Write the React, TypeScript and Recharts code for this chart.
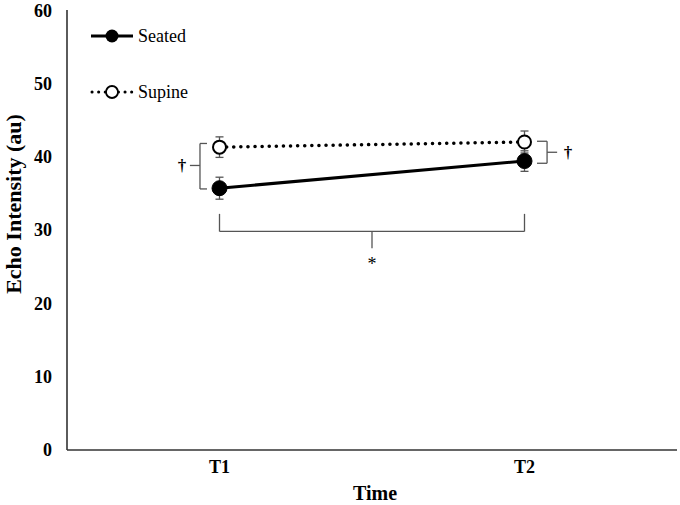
import React from 'react';
import {
  LineChart, Line, XAxis, YAxis, ErrorBar, ReferenceLine, ReferenceDot,
} from 'recharts';

const timePoints = [1, 2];
const timeLabels = ['T1', 'T2'];
const seatedMean = [35.7, 39.4];
const seatedSE = [1.5, 1.4];
const supineMean = [41.3, 42.0];
const supineSE = [1.4, 1.5];
const yTicks = [0, 10, 20, 30, 40, 50, 60];

const data = timePoints.map((t, i) => ({
  t,
  seated: seatedMean[i],
  seatedErr: seatedSE[i],
  supine: supineMean[i],
  supineErr: supineSE[i],
}));

const FONT = 'Liberation Serif, Times New Roman, serif';
const BR = '#555';

// bracket annotation coordinates (data units)
const t1Bracket = { x: 0.936, xEnd: 0.959, xMid: 0.903, yTop: 41.8, yBot: 35.6, yMid: 38.8, xLabel: 0.877 };
const t2Bracket = { x: 2.074, xStart: 2.041, xMid: 2.107, yTop: 42.1, yBot: 39.1, yMid: 40.6, xLabel: 2.143 };
const timeBracket = { yTop: 32.2, yBar: 29.8, yStem: 27.5, xMid: 1.5, yLabel: 25.4 };

const SupineDot = (props: any) => {
  const { cx, cy, index } = props;
  if (cx == null || cy == null) return null;
  return <circle key={`sd${index}`} cx={cx} cy={cy} r={6.5} fill="#fff" stroke="#000" strokeWidth={2} />;
};
const SeatedDot = (props: any) => {
  const { cx, cy, index } = props;
  if (cx == null || cy == null) return null;
  return <circle key={`sed${index}`} cx={cx} cy={cy} r={7.5} fill="#000" stroke="#000" strokeWidth={1} />;
};

const markLabel = (txt: string, size: number, weight: string) => ({
  content: (p: any) => {
    const vb = p.viewBox || {};
    const cx = (vb.cx ?? vb.x ?? 0) + (vb.width ? vb.width / 2 : 0);
    const cy = (vb.cy ?? vb.y ?? 0) + (vb.height ? vb.height / 2 : 0);
    return (
      <text x={cx} y={cy} dy="0.35em" textAnchor="middle" fontFamily={FONT} fontWeight={weight} fontSize={size} fill="#000">
        {txt}
      </text>
    );
  },
});

const LegendOverlay = () => (
  <svg width={140} height={110} style={{ position: 'absolute', left: 80, top: 0 }}>
    <line x1={11} y1={36} x2={53} y2={36} stroke="#000" strokeWidth={3} />
    <circle cx={32} cy={36} r={6.5} fill="#000" />
    <text x={58} y={36} dy="0.35em" fontFamily={FONT} fontSize={18} fill="#000">Seated</text>
    <line x1={12} y1={92} x2={52} y2={92} stroke="#000" strokeWidth={3} strokeDasharray="0.1 6.5" strokeLinecap="round" />
    <circle cx={32} cy={92} r={6} fill="#fff" stroke="#000" strokeWidth={1.8} />
    <text x={58} y={92} dy="0.35em" fontFamily={FONT} fontSize={18} fill="#000">Supine</text>
  </svg>
);

const seg = (x1: number, y1: number, x2: number, y2: number, k: string) => (
  <ReferenceLine
    key={k}
    segment={[{ x: x1, y: y1 }, { x: x2, y: y2 }]}
    stroke={BR}
    strokeWidth={1.3}
  />
);

export default function App() {
  return (
    <div style={{ position: 'absolute', left: 0, top: 0, width: 680, height: 505, background: '#fff' }}>
      <LineChart width={680} height={505} data={data} margin={{ top: 10, right: 3, bottom: 0, left: 0 }}>
        <XAxis
          dataKey="t"
          type="number"
          domain={[0.5, 2.5]}
          ticks={timePoints}
          tickFormatter={(v: number) => timeLabels[timePoints.indexOf(v)]}
          height={55}
          tickLine={false}
          tickSize={0}
          tickMargin={10}
          axisLine={{ stroke: '#333', strokeWidth: 1.6 }}
          tick={{ fill: '#000', fontSize: 18, fontWeight: 'bold', fontFamily: FONT }}
          label={{
            content: (p: any) => {
              const vb = p.viewBox || {};
              const cx = (vb.x ?? 67) + (vb.width ?? 610) / 2 + 3;
              return (
                <text x={cx} y={500} textAnchor="middle" fontFamily={FONT} fontWeight="bold" fontSize={20} fill="#000">
                  Time
                </text>
              );
            },
          }}
        />
        <YAxis
          type="number"
          domain={[0, 60]}
          ticks={yTicks}
          width={67}
          tickLine={false}
          tickSize={0}
          tickMargin={15}
          axisLine={{ stroke: '#333', strokeWidth: 1.6 }}
          tick={{ fill: '#000', fontSize: 18, fontWeight: 'bold', fontFamily: FONT }}
          label={{
            content: () => (
              <text x={21} y={204} transform="rotate(-90 21 204)" textAnchor="middle" fontFamily={FONT} fontWeight="bold" fontSize={22} fill="#000">
                Echo Intensity (au)
              </text>
            ),
          }}
        />

        {/* T1 bracket */}
        {seg(t1Bracket.x, t1Bracket.yTop, t1Bracket.x, t1Bracket.yBot, 'a1')}
        {seg(t1Bracket.x, t1Bracket.yTop, t1Bracket.xEnd, t1Bracket.yTop, 'a2')}
        {seg(t1Bracket.x, t1Bracket.yBot, t1Bracket.xEnd, t1Bracket.yBot, 'a3')}
        {seg(t1Bracket.xMid, t1Bracket.yMid, t1Bracket.x, t1Bracket.yMid, 'a4')}
        <ReferenceDot x={t1Bracket.xLabel} y={t1Bracket.yMid} r={0} fill="none" stroke="none"
          label={markLabel('†', 17, 'bold')} />

        {/* T2 bracket */}
        {seg(t2Bracket.x, t2Bracket.yTop, t2Bracket.x, t2Bracket.yBot, 'b1')}
        {seg(t2Bracket.xStart, t2Bracket.yTop, t2Bracket.x, t2Bracket.yTop, 'b2')}
        {seg(t2Bracket.xStart, t2Bracket.yBot, t2Bracket.x, t2Bracket.yBot, 'b3')}
        {seg(t2Bracket.x, t2Bracket.yMid, t2Bracket.xMid, t2Bracket.yMid, 'b4')}
        <ReferenceDot x={t2Bracket.xLabel} y={t2Bracket.yMid} r={0} fill="none" stroke="none"
          label={markLabel('†', 17, 'bold')} />

        {/* Time bracket */}
        {seg(timePoints[0], timeBracket.yTop, timePoints[0], timeBracket.yBar, 'c1')}
        {seg(timePoints[1], timeBracket.yTop, timePoints[1], timeBracket.yBar, 'c2')}
        {seg(timePoints[0], timeBracket.yBar, timePoints[1], timeBracket.yBar, 'c3')}
        {seg(timeBracket.xMid, timeBracket.yBar, timeBracket.xMid, timeBracket.yStem, 'c4')}
        <ReferenceDot x={timeBracket.xMid} y={timeBracket.yLabel} r={0} fill="none" stroke="none"
          label={markLabel('*', 18, 'normal')} />

        <Line
          dataKey="supine"
          stroke="#000"
          strokeWidth={3.5}
          strokeDasharray="0.1 7"
          strokeLinecap="round"
          dot={SupineDot}
          activeDot={false}
          isAnimationActive={false}
        >
          <ErrorBar dataKey="supineErr" direction="y" width={4} stroke={BR} strokeWidth={1.3} />
        </Line>
        <Line
          dataKey="seated"
          stroke="#000"
          strokeWidth={3}
          dot={SeatedDot}
          activeDot={false}
          isAnimationActive={false}
        >
          <ErrorBar dataKey="seatedErr" direction="y" width={4} stroke={BR} strokeWidth={1.3} />
        </Line>
      </LineChart>
      <LegendOverlay />
    </div>
  );
}
